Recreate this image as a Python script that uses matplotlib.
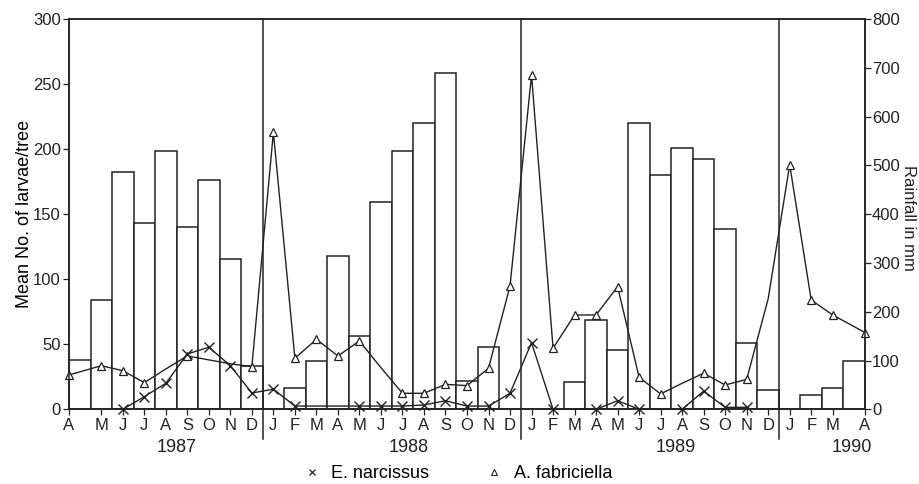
import numpy as np
import matplotlib
matplotlib.use("Agg")
from matplotlib import pyplot as plt
from matplotlib.lines import Line2D

plt.rcParams['font.family'] = ['Liberation Sans', 'DejaVu Sans']

# months from April 1987 to April 1990
months = ["A", "M", "J", "J", "A", "S", "O", "N", "D",
          "J", "F", "M", "A", "M", "J", "J", "A", "S", "O", "N", "D",
          "J", "F", "M", "A", "M", "J", "J", "A", "S", "O", "N", "D",
          "J", "F", "M", "A"]
years = ["1987", "1988", "1989", "1990"]

# monthly rainfall (mm), right axis
rainfall = [101, 224, 487, 381, 530, 374, 470, 309, 89,
            0, 43, 98, 315, 150, 425, 529, 587, 690, 59, 128, 0,
            0, 0, 55, 183, 122, 586, 480, 536, 514, 370, 135, 40,
            0, 29, 44, 100]

# A. fabriciella, mean larvae/tree (month index, value)
fab_idx = [0, 1, 2, 3, 4, 5, 6, 7, 8,
           9, 10, 11, 12, 13, 14, 15, 16, 17, 18, 19, 20,
           21, 22, 23, 24, 25, 26, 27, 28, 29, 30, 31, 32,
           33, 34, 35, 36]
fab_val = [26.4, 33.5, 29.7, 20.5, 31, 41, 38, 35, 32.8,
           213, 39.2, 53.8, 41, 52.5, 32, 12.3, 12.3, 19.2, 18.2, 31.5, 94.8,
           257, 46.9, 72.5, 72.5, 94.3, 24.6, 11.8, 20, 27.7, 18.7, 23, 85,
           188, 84, 72.5, 59]
fab_nomark = [4, 6, 7, 14, 28, 32]

# E. narcissus, mean larvae/tree
nar_idx = [2, 3, 4, 5, 6, 7, 8,
           9, 10, 11, 12, 13, 14, 15, 16, 17, 18, 19, 20,
           21, 22, 23, 24, 25, 26, 27, 28, 29, 30, 31]
nar_val = [0, 9.7, 20, 42.5, 47.7, 33.5, 12.5,
           15.5, 2.5, 2.5, 2.5, 2.5, 2.5, 2.5, 3.3, 6.6, 2.5, 2.5, 12.3,
           51.2, 0, 0, 0, 6.6, 0, 0, 0, 14, 1.5, 1.5]
nar_nomark = [11, 12, 23, 27]

n = len(months)
pos = np.arange(n, dtype=float)
pos[0] = -0.5
pos[-1] = n - 0.5

fig = plt.figure(figsize=(9.19, 4.84), dpi=100)
ax = fig.add_axes([69/919, 1-409.3/484, (865-69)/919, (409.3-19)/484])
ax2 = ax.twinx()

ax2.bar(np.arange(n), rainfall, width=1.0, facecolor='white',
        edgecolor='#222222', linewidth=1.1)
ax2.set_ylim(0, 800)
ax2.set_yticks(range(0, 801, 100))
# right-hand label placed by hand, it sits tight against the figure edge
fig.text(908/919, 1-218/484, "Rainfall in mm", rotation=270,
         ha='center', va='center', fontsize=12, color='#222222')

ax.set_zorder(ax2.get_zorder() + 1)
ax.patch.set_visible(False)


def marks(idx, skip):
    return [k for k, m in enumerate(idx) if m not in skip]


ax.plot(pos[fab_idx], fab_val, color='#222222', lw=1.0, marker='^',
        ms=6, mfc='white', mec='#222222', mew=0.9,
        markevery=marks(fab_idx, fab_nomark), clip_on=False)
ax.plot(pos[nar_idx], nar_val, color='#222222', lw=1.0, marker='x',
        ms=7, mec='#222222', mew=1.0,
        markevery=marks(nar_idx, nar_nomark), clip_on=False)

ax.set_xlim(-0.5, n - 0.5)
ax.set_ylim(0, 300)
ax.set_yticks(range(0, 301, 50))
ax.set_ylabel("Mean No. of larvae/tree", fontsize=13, labelpad=0)
ax.set_xticks(pos)
ax.set_xticklabels(months)

for a in (ax, ax2):
    a.tick_params(direction='out', length=4, width=0.9, labelsize=12,
                  colors='#222222', pad=2)
    for s in a.spines.values():
        s.set_linewidth(1.1)
        s.set_color('#222222')
ax.tick_params(axis='x', pad=2)
ax2.tick_params(axis='y', pad=1)

# year separators and year labels
for xs in [8.5, 20.5, 32.5]:
    ax.plot([xs, xs], [-0.075, 1], transform=ax.get_xaxis_transform(),
            color='#222222', lw=1.1, clip_on=False)
for yr, xp in zip(years, [4.5, 15.3, 27.7, 35.9]):
    ax.text(xp, -0.097, yr, transform=ax.get_xaxis_transform(),
            ha='center', va='center', fontsize=13, color='#222222')

handles = [Line2D([], [], ls='none', marker='x', ms=5, mec='#222222', mew=0.9),
           Line2D([], [], ls='none', marker='^', ms=4, mfc='white', mec='#222222', mew=0.8)]
fig.legend(handles, ["E. narcissus", "A. fabriciella"], loc='center',
           bbox_to_anchor=(0.497, 0.022), ncol=2, frameon=False,
           fontsize=13, columnspacing=3, handletextpad=0.5, handlelength=1.2)

fig.savefig("out.png", dpi=100)
